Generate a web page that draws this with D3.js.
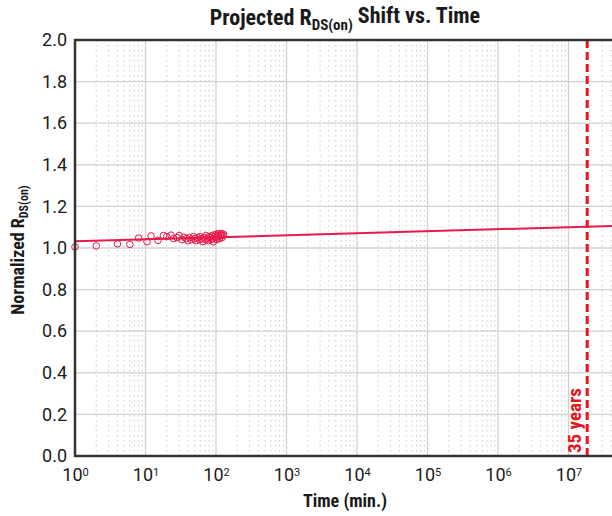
<!DOCTYPE html>
<html>
<head>
<meta charset="utf-8">
<script src="https://cdn.jsdelivr.net/npm/d3@7"></script>
<style>
  body { margin: 0; background: #fff; }
  svg { display: block; overflow: hidden; }
  text { font-family: "Liberation Sans Narrow", "Roboto Condensed", Roboto, sans-serif; fill: #1a1a1a; }
</style>
</head>
<body>
<svg id="chart" width="612" height="516"></svg>
<script>
// measured points (time in min, normalized Rds(on))
const pointTimes = [1, 2, 4, 6, 8, 10.5, 12, 15, 18, 20, 23, 25, 28, 30, 33, 35, 38, 40, 42, 45,
  48, 50, 52, 55, 58, 60, 62, 65, 68, 70, 72, 75, 78, 80, 82, 85, 88, 90, 92, 95,
  98, 100, 102, 105, 108, 110, 112, 115, 118, 120, 122, 125, 128];
const pointValues = [1.005, 1.01, 1.02, 1.017, 1.048, 1.03, 1.058, 1.037, 1.06, 1.055, 1.062, 1.045, 1.05, 1.06, 1.04, 1.052, 1.045, 1.035, 1.05, 1.04,
  1.055, 1.045, 1.035, 1.05, 1.04, 1.055, 1.045, 1.03, 1.05, 1.04, 1.06, 1.045, 1.035, 1.055, 1.05, 1.04, 1.06, 1.045, 1.03, 1.055,
  1.065, 1.05, 1.04, 1.06, 1.07, 1.055, 1.045, 1.065, 1.06, 1.07, 1.05, 1.06, 1.065];

// fitted projection line end points
const fitTimes = [1, 1e8];
const fitValues = [1.032, 1.11];

const yTicks = [0, 0.2, 0.4, 0.6, 0.8, 1.0, 1.2, 1.4, 1.6, 1.8, 2.0];
const xDecades = [0, 1, 2, 3, 4, 5, 6, 7, 8];
const xLabelDecades = [0, 1, 2, 3, 4, 5, 6, 7];
const markerTime = 35 * 365.25 * 24 * 60; // 35 years in minutes
const markerLabel = "35 years";

const svg = d3.select('#chart');
const mLeft = 75, mTop = 40, mBottom = 456;
const decadeW = 70.5;

const x = d3.scaleLog().domain([1, 1e8]).range([mLeft, mLeft + decadeW * 8]);
const y = d3.scaleLinear().domain([0, 2]).range([mBottom, mTop]);

// minor grid (dotted) 2..9 within each decade
const minor = [];
xDecades.slice(0, -1).forEach(d => {
  for (let k = 2; k <= 9; k++) minor.push(k * Math.pow(10, d));
});
svg.append('g').selectAll('line').data(minor).enter().append('line')
  .attr('x1', d => x(d)).attr('x2', d => x(d))
  .attr('y1', mTop).attr('y2', mBottom)
  .attr('stroke', '#cacaca').attr('stroke-width', 1)
  .attr('stroke-dasharray', '1.5,3.5');

// major grid
svg.append('g').selectAll('line').data(xDecades).enter().append('line')
  .attr('x1', d => x(Math.pow(10, d))).attr('x2', d => x(Math.pow(10, d)))
  .attr('y1', mTop).attr('y2', mBottom)
  .attr('stroke', '#d2d2d2').attr('stroke-width', 1.3);

svg.append('g').selectAll('line').data(yTicks).enter().append('line')
  .attr('x1', mLeft).attr('x2', 612)
  .attr('y1', d => y(d)).attr('y2', d => y(d))
  .attr('stroke', '#d2d2d2').attr('stroke-width', 1.3);

// 35 year marker
svg.append('line')
  .attr('x1', x(markerTime)).attr('x2', x(markerTime))
  .attr('y1', mTop).attr('y2', mBottom)
  .attr('stroke', '#e8141b').attr('stroke-width', 3)
  .attr('stroke-dasharray', '8,4');

svg.append('text')
  .attr('transform', `translate(${x(markerTime) - 6},${mBottom - 3}) rotate(-90)`)
  .attr('text-anchor', 'start')
  .style('fill', '#e8141b')
  .style('font-size', '19px')
  .style('font-weight', 'bold')
  .text(markerLabel);

// fit line
const fit = fitTimes.map((t, i) => ({t: t, v: fitValues[i]}));
svg.append('path')
  .datum(fit)
  .attr('d', d3.line().x(d => x(d.t)).y(d => y(d.v)))
  .attr('fill', 'none')
  .attr('stroke', '#e8194b').attr('stroke-width', 2);

// data points
const pts = pointTimes.map((t, i) => ({t: t, v: pointValues[i]}));
svg.append('g').selectAll('circle').data(pts).enter().append('circle')
  .attr('cx', d => x(d.t)).attr('cy', d => y(d.v))
  .attr('r', 3.3)
  .attr('fill', 'none')
  .attr('stroke', '#e8194b').attr('stroke-width', 1);

// frame
svg.append('line').attr('x1', mLeft).attr('x2', 612).attr('y1', mTop).attr('y2', mTop)
  .attr('stroke', '#333').attr('stroke-width', 2.5);
svg.append('line').attr('x1', mLeft).attr('x2', 612).attr('y1', mBottom).attr('y2', mBottom)
  .attr('stroke', '#333').attr('stroke-width', 2.5);
svg.append('line').attr('x1', mLeft).attr('x2', mLeft).attr('y1', mTop - 1).attr('y2', mBottom + 1)
  .attr('stroke', '#333').attr('stroke-width', 2.5);

// y axis labels
const yAxis = svg.append('g')
  .attr('transform', `translate(${mLeft},0)`)
  .call(d3.axisLeft(y).tickValues(yTicks).tickSize(0).tickPadding(8).tickFormat(d3.format('.1f')));
yAxis.select('.domain').remove();
yAxis.selectAll('text')
  .style('font-size', '18px')
  .style('font-family', '"Liberation Sans Narrow", Roboto, sans-serif')
  .attr('dy', '0.32em');

// x axis labels as 10^n
const xAxis = svg.append('g')
  .attr('transform', `translate(0,${mBottom})`)
  .call(d3.axisBottom(x).tickValues(xLabelDecades.map(d => Math.pow(10, d))).tickSize(0).tickPadding(12).tickFormat(''));
xAxis.select('.domain').remove();
xAxis.selectAll('.tick text').each(function(d) {
  const t = d3.select(this);
  t.text(null).style('font-size', '18px').style('font-family', '"Liberation Sans Narrow", Roboto, sans-serif');
  t.append('tspan').text('10');
  t.append('tspan').attr('dy', '-0.45em').style('font-size', '11px').text(Math.round(Math.log10(d)));
});

// titles
const title = svg.append('text')
  .attr('x', 345).attr('y', 25)
  .attr('text-anchor', 'middle')
  .style('font-size', '22px').style('font-weight', 'bold');
title.append('tspan').text('Projected R');
title.append('tspan').attr('dy', '0.3em').style('font-size', '15px').text('DS(on)');
title.append('tspan').attr('dy', '-0.3em').text(' Shift vs. Time');

svg.append('text')
  .attr('x', 345).attr('y', 507)
  .attr('text-anchor', 'middle')
  .style('font-size', '18px').style('font-weight', 'bold')
  .text('Time (min.)');

const ylab = svg.append('text')
  .attr('transform', `translate(24,${(mTop + mBottom) / 2 + 2}) rotate(-90)`)
  .attr('text-anchor', 'middle')
  .style('font-size', '18px').style('font-weight', 'bold');
ylab.append('tspan').text('Normalized R');
ylab.append('tspan').attr('dy', '0.3em').style('font-size', '12px').text('DS(on)');
</script>
</body>
</html>
